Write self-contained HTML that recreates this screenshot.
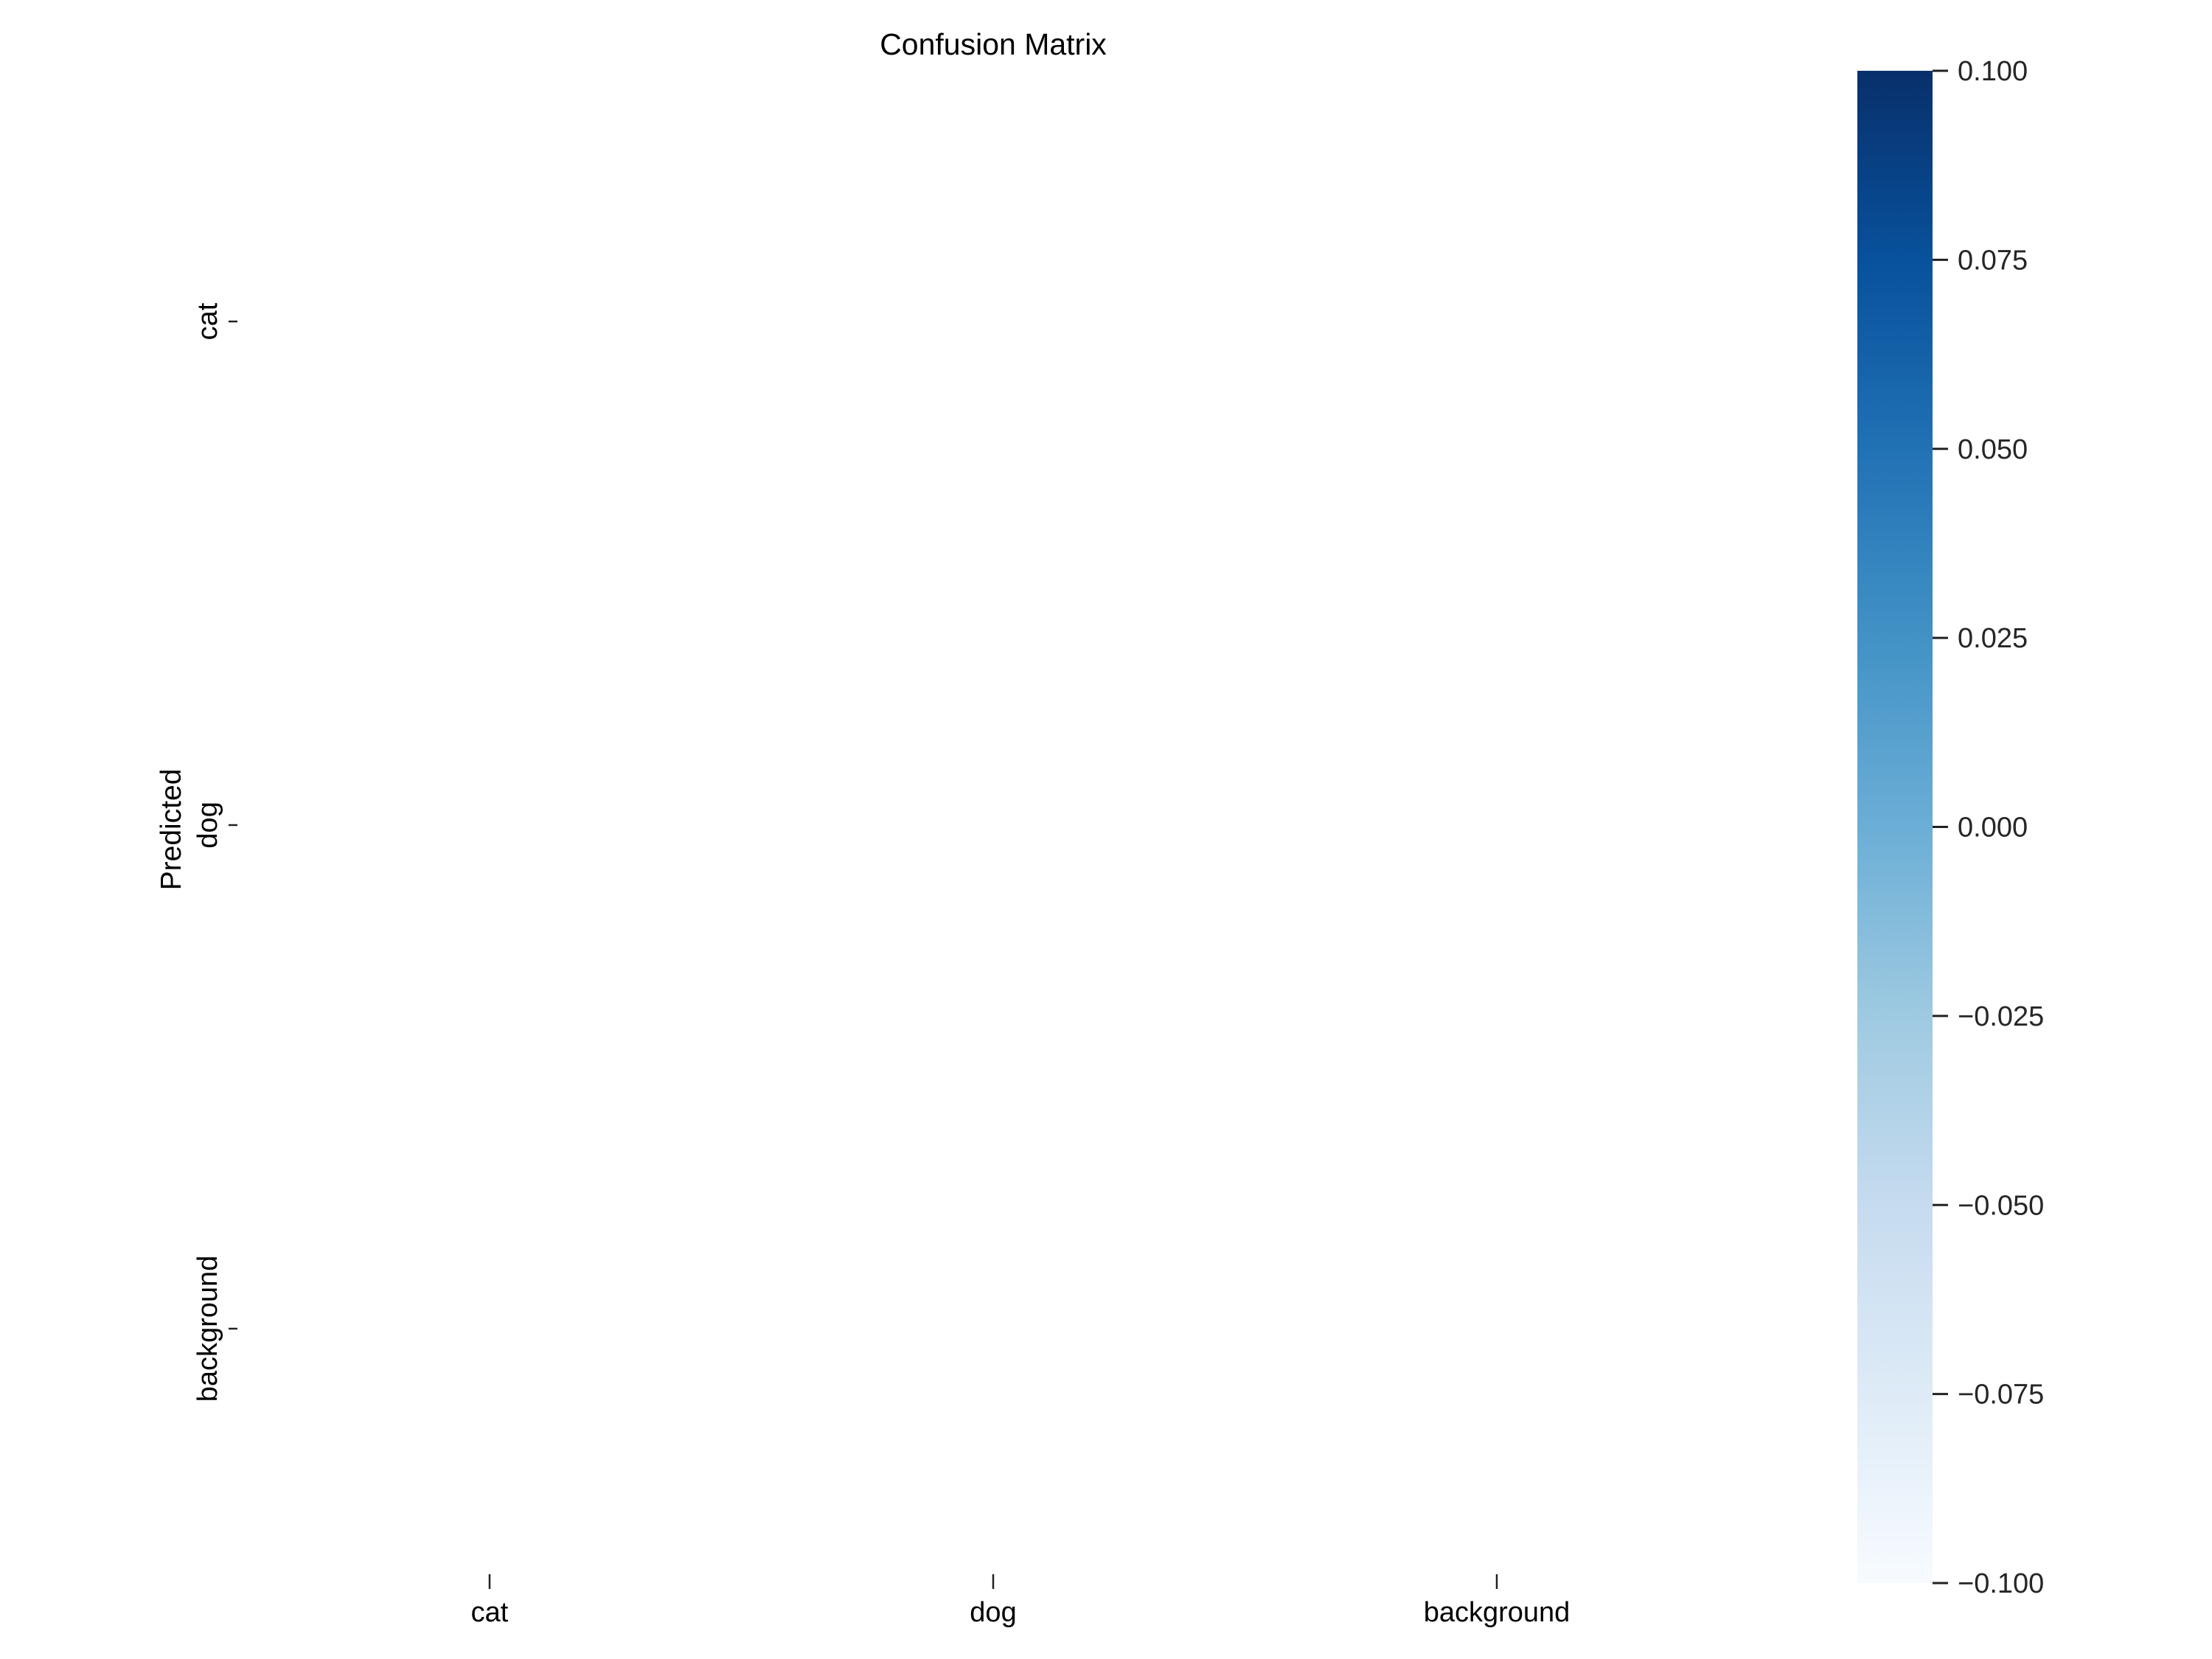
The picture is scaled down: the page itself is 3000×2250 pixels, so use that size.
<!DOCTYPE html>
<html><head><meta charset="utf-8"><style>
html,body{margin:0;padding:0;background:#fff;width:3000px;height:2250px;overflow:hidden}
svg text{font-family:"Liberation Sans",Arial,sans-serif}
</style></head><body>
<svg id="chart" width="3000" height="2250" viewBox="0 0 3000 2250" xmlns="http://www.w3.org/2000/svg">
<defs><linearGradient id="blues" x1="0" y1="1" x2="0" y2="0">
<stop offset="0" stop-color="#f7fbff"/><stop offset="0.125" stop-color="#deebf7"/><stop offset="0.25" stop-color="#c6dbef"/><stop offset="0.375" stop-color="#9ecae1"/><stop offset="0.5" stop-color="#6baed6"/><stop offset="0.625" stop-color="#4292c6"/><stop offset="0.75" stop-color="#2171b5"/><stop offset="0.875" stop-color="#08519c"/><stop offset="1" stop-color="#08306b"/></linearGradient></defs>
<text x="1347" y="74" font-size="41" text-anchor="middle" fill="#000">Confusion Matrix</text>
<g id="cells"></g>
<g id="xaxis"></g>
<g id="yaxis"></g>
<text x="0" y="0" font-size="39" text-anchor="middle" transform="translate(245,1125) rotate(-90)" fill="#000">Predicted</text>
<rect x="2519" y="96" width="102" height="2051" fill="url(#blues)"/>
<g id="cbar"></g>
</svg>
<script>
const categories = ["cat", "dog", "background"];
const matrix = [[0,0,0],[0,0,0],[0,0,0]];
const cbarTicks = [0.1, 0.075, 0.05, 0.025, 0, -0.025, -0.05, -0.075, -0.1];
const cbarLabels = ["0.100","0.075","0.050","0.025","0.000","\u22120.025","\u22120.050","\u22120.075","\u22120.100"];
const vmin = -0.1, vmax = 0.1;
const NS = "http://www.w3.org/2000/svg";
const L = 322.5, T = 94.5, CW = 683, CH = 683;
const xPos = i => L + CW * i + CW / 2;
const yPos = i => T + CH * i + CH / 2;
const cbY = v => 2147 - (v - vmin) / (vmax - vmin) * (2147 - 96);
const stops = ["#f7fbff","#deebf7","#c6dbef","#9ecae1","#6baed6","#4292c6","#2171b5","#08519c","#08306b"];
function color(v){let t=Math.max(0,Math.min(1,(v-vmin)/(vmax-vmin)))*8;let i=Math.min(7,Math.floor(t));const a=stops[i],b=stops[i+1],f=t-i;const c=k=>Math.round(parseInt(a.substr(k,2),16)*(1-f)+parseInt(b.substr(k,2),16)*f);return `rgb(${c(1)},${c(3)},${c(5)})`;}
function mk(tag, attrs, parent){const e=document.createElementNS(NS,tag);for(const k in attrs)e.setAttribute(k,attrs[k]);parent.appendChild(e);return e;}
const cells=document.getElementById('cells');
matrix.forEach((row,r)=>row.forEach((v,c)=>{
  if (v < 0.005) return;
  const rc = mk('rect',{x:xPos(c)-CW/2,y:yPos(r)-CH/2,width:CW,height:CH,fill:color(v)},cells);
  
  
}));
const xa=document.getElementById('xaxis'), ya=document.getElementById('yaxis');
categories.forEach((c,i)=>{
  const tk=mk('line',{x1:xPos(i),x2:xPos(i),y1:2135,y2:2155,stroke:'#222','stroke-width':2.5},xa);
  
  
  const t=mk('text',{x:xPos(i),y:2199,'font-size':38,'text-anchor':'middle',fill:'#000'},xa);
  t.textContent=c;
  
  
  const tk2=mk('line',{x1:310,x2:322,y1:yPos(i),y2:yPos(i),stroke:'#222','stroke-width':2.5},ya);
  
  
  const t2=mk('text',{x:0,y:0,'font-size':38,'text-anchor':'middle',fill:'#000',transform:`translate(294,${yPos(i)}) rotate(-90)`},ya);
  t2.textContent=c;
  
  
});
const cb=document.getElementById('cbar');
cbarTicks.forEach((v,i)=>{
  const y=cbY(v);
  const tk=mk('line',{x1:2621,x2:2642,y1:y,y2:y,stroke:'#222','stroke-width':3},cb);
  
  
  const t=mk('text',{x:2655,y:y+13,'font-size':38,fill:'#262626'},cb);
  t.textContent=cbarLabels[i];
  
  
});
</script>
</body></html>
